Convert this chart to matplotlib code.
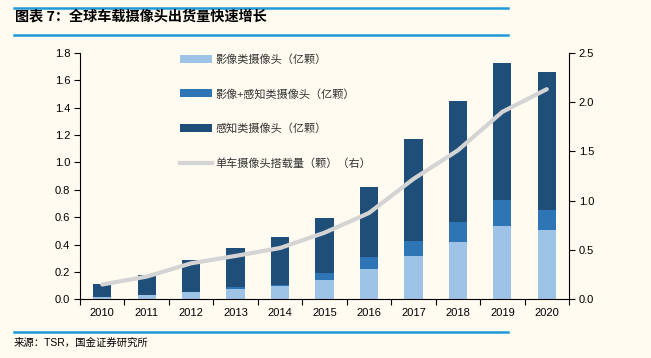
import numpy as np
import matplotlib.pyplot as plt
from matplotlib.lines import Line2D

plt.rcParams['font.family'] = ['Liberation Sans', 'Noto Sans CJK SC', 'DejaVu Sans']

# 数据
years = ["2010", "2011", "2012", "2013", "2014", "2015",
         "2016", "2017", "2018", "2019", "2020"]
imaging = [0.02, 0.03, 0.05, 0.077, 0.10, 0.143, 0.223, 0.316, 0.418, 0.535, 0.506]
img_sense = [0.0, 0.0, 0.005, 0.015, 0.005, 0.047, 0.086, 0.110, 0.146, 0.190, 0.146]
sensing = [0.092, 0.145, 0.232, 0.285, 0.348, 0.406, 0.509, 0.742, 0.883, 0.997, 1.007]
per_car = [0.15, 0.23, 0.365, 0.44, 0.52, 0.675, 0.875, 1.22, 1.51, 1.90, 2.13]

labels = ["影像类摄像头（亿颗）", "影像+感知类摄像头（亿颗）",
          "感知类摄像头（亿颗）", "单车摄像头搭载量（颗）（右）"]

BG = "#fffbf0"
C_LIGHT = "#9dc3e6"
C_MID = "#2e75b6"
C_DARK = "#1f4e79"
C_LINE = "#d4d4d4"
C_RULE = "#1e9bd7"

fig = plt.figure(figsize=(6.51, 3.58), dpi=100, facecolor=BG)
W, H = 651, 358
ax = fig.add_axes([80 / W, 1 - 299.3 / H, 489 / W, 246.6 / H])
ax.set_facecolor(BG)

x = np.arange(len(years))
w = 0.41
b1 = ax.bar(x, imaging, w, color=C_LIGHT, zorder=2)
bot2 = np.array(imaging)
b2 = ax.bar(x, img_sense, w, bottom=bot2, color=C_MID, zorder=2)
bot3 = bot2 + np.array(img_sense)
b3 = ax.bar(x, sensing, w, bottom=bot3, color=C_DARK, zorder=2)

ax.set_xlim(-0.5, len(years) - 0.5)
ax.set_ylim(0, 1.8)
ax.set_yticks(np.arange(0, 1.81, 0.2))
ax.set_yticklabels([f"{v:.1f}" for v in np.arange(0, 1.81, 0.2)], fontsize=8)
ax.set_xticks(x)
ax.set_xticklabels(years, fontsize=8)
ax.set_xticks(np.arange(-0.5, len(years), 1), minor=True)
ax.tick_params(axis='x', which='major', length=0, pad=6)
ax.tick_params(axis='x', which='minor', length=4, direction='out', width=0.8)
ax.tick_params(axis='y', length=4, direction='out', width=0.8, pad=3)
for s in ['top', 'right']:
    ax.spines[s].set_visible(False)
ax.spines['left'].set_linewidth(0.8)
ax.spines['bottom'].set_linewidth(0.8)

ax2 = ax.twinx()
ax2.set_ylim(0, 2.5)
ax2.set_yticks(np.arange(0, 2.51, 0.5))
ax2.set_yticklabels([f"{v:.1f}" for v in np.arange(0, 2.51, 0.5)], fontsize=8)
ax2.tick_params(axis='y', length=4, direction='out', width=0.8, pad=3)
for s in ['top', 'left', 'bottom']:
    ax2.spines[s].set_visible(False)
ax2.spines['right'].set_linewidth(0.8)
ln, = ax2.plot(x, per_car, color=C_LINE, lw=3, solid_capstyle='round', zorder=3)

handles = [b1, b2, b3, Line2D([], [], color=C_LINE, lw=3)]
leg = ax2.legend(handles, labels, loc='upper left', bbox_to_anchor=(0.204, 0.995),
                 frameon=False, borderpad=0, borderaxespad=0, labelspacing=2.15,
                 handlelength=2.9, handletextpad=0.35,
                 prop={'family': ['Noto Sans CJK SC'], 'size': 8})
for t in leg.get_texts():
    t.set_color("#333333")

# 标题与横线
fig.text(15 / W, 1 - 17 / H, "图表 7：全球车载摄像头出货量快速增长",
         fontsize=10.2, fontweight='bold', va='center', ha='left',
         family=['Noto Sans CJK SC'])
for yy in (7.5, 34.5, 331.5):
    fig.add_artist(Line2D([14 / W, 508 / W], [1 - yy / H, 1 - yy / H],
                          color=C_RULE, lw=1.8))
fig.text(14 / W, 1 - 343 / H, "来源：TSR，国金证券研究所", fontsize=7.5,
         va='center', ha='left', family=['Liberation Sans', 'Noto Sans CJK SC'])

fig.savefig("out.png", dpi=100, facecolor=BG)
